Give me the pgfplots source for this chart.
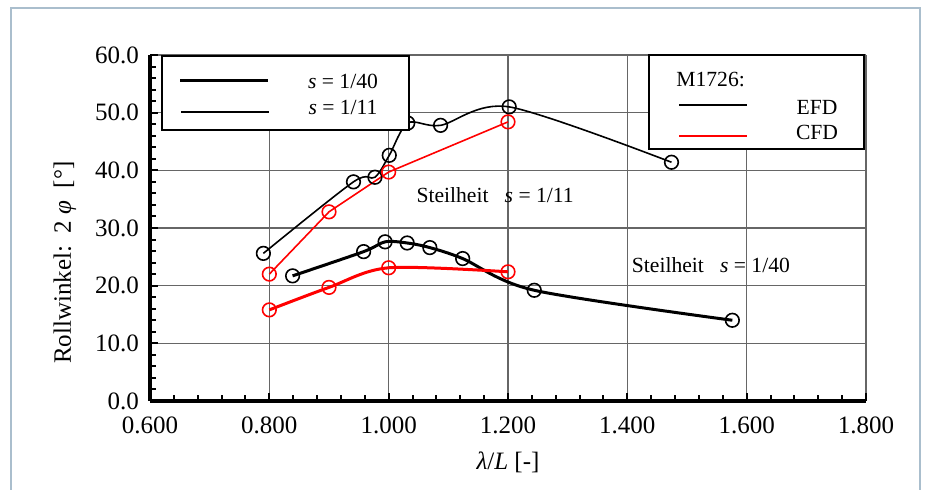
\documentclass[border=0pt]{standalone}
\usepackage{fontspec}
\setmainfont{Liberation Serif}
\usepackage{pgfplots}
\pgfplotsset{compat=1.18}
\newcommand{\fbig}{\fontsize{12.5}{15}\selectfont}
\newcommand{\fsml}{\fontsize{10.8}{13}\selectfont}
\begin{document}
\begin{tikzpicture}
\useasboundingbox (0,0) rectangle (463pt,245pt);
\draw[color={rgb,255:red,170;green,190;blue,205}, line width=0.8pt] (5.5pt,-10pt) rectangle (460pt,241pt);
\begin{axis}[
  at={(75pt,44.5pt)}, anchor=south west, scale only axis,
  width=358pt, height=173pt,
  xmin=0.6, xmax=1.8, ymin=0, ymax=60,
  xtick={0.6,0.8,1.0,1.2,1.4,1.6,1.8},
  ytick={0,10,20,30,40,50,60},
  minor x tick num=4, minor y tick num=4,
  grid=major, major grid style={black!60, line width=0.6pt},
  axis x line*=bottom, axis y line*=left,
  axis line style={line width=1.8pt},
  tick align=inside, major tick length=4pt, minor tick length=3pt,
  tick style={black, line width=1pt},
  /pgf/number format/assume math mode=true,
  xticklabel style={font=\fbig, yshift=-4.5pt, /pgf/number format/.cd, fixed, fixed zerofill, precision=3, assume math mode=true},
  yticklabel style={font=\fbig, xshift=-2pt, /pgf/number format/.cd, fixed, fixed zerofill, precision=1, assume math mode=true},
  xlabel={\textit{λ}/\textit{L} [-]},
  ylabel={Rollwinkel:\ \ 2 \textit{φ}\ \ [°]},
  label style={font=\fbig},
  xlabel style={at={(axis description cs:0.5,-0.176)}, anchor=center},
  ylabel style={at={(axis description cs:-0.119,0.40)}, anchor=center},
  clip=false,
]
% s = 1/11 EFD
\addplot[black, line width=0.8pt, smooth, mark=o, mark size=3.4pt, mark options={line width=0.8pt}] coordinates {
  (0.790,25.6) (0.941,38.0) (0.977,38.8) (1.001,42.6) (1.032,48.2) (1.087,47.8) (1.202,51.0) (1.474,41.4)};
% s = 1/11 CFD
\addplot[red, line width=0.8pt, mark=o, mark size=3.4pt, mark options={line width=0.8pt}] coordinates {
  (0.8,22.0) (0.9,32.8) (1.0,39.7) (1.2,48.4)};
% s = 1/40 EFD
\addplot[black, line width=1.5pt, smooth, mark=o, mark size=3.4pt, mark options={line width=0.8pt}] coordinates {
  (0.839,21.7) (0.958,25.9) (0.994,27.6) (1.031,27.4) (1.069,26.6) (1.124,24.7) (1.244,19.2) (1.576,14.0)};
% s = 1/40 CFD
\addplot[red, line width=1.5pt, smooth, mark=o, mark size=3.4pt, mark options={line width=0.8pt}] coordinates {
  (0.8,15.8) (0.9,19.7) (1.0,23.1) (1.2,22.4)};
\node[anchor=west, inner sep=0pt, font=\fsml] at (axis cs:1.046,35.7) {Steilheit\ \ \ \textit{s} = 1/11};
\node[anchor=west, inner sep=0pt, font=\fsml] at (axis cs:1.407,23.6) {Steilheit\ \ \ \textit{s} = 1/40};
\end{axis}
\begin{scope}[x=0.5pt, y=-0.5pt, yshift=245pt, font=\fsml]
\draw[fill=white, line width=1pt] (162,56) rectangle (409,130);
\draw[line width=1.5pt] (180,81) -- (268,81);
\draw[line width=0.8pt] (181,112) -- (269,112);
\node at (343,81) {\textit{s} = 1/40};
\node at (343,107) {\textit{s} = 1/11};
\draw[fill=white, line width=1pt] (649,55) rectangle (864,149);
\node[anchor=west, inner sep=0pt] at (676,80) {M1726:};
\draw[line width=1.3pt] (679,105) -- (747,105);
\draw[red, line width=1.3pt] (679,136) -- (747,136);
\node at (817,107) {EFD};
\node at (817,132) {CFD};
\end{scope}
\end{tikzpicture}
\end{document}
